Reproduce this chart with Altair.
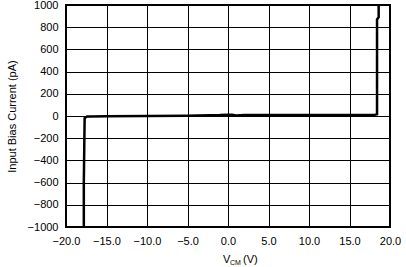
import altair as alt
import pandas as pd

vcm = [-17.8, -17.8, -17.7, -17.4, -17.0, -15.0, -10.0, -5.0, -1.0, 0.0, 0.5, 1.0, 2.0, 5.0, 10.0, 15.0, 18.0, 18.4, 18.4, 18.6, 18.6]
ib = [-1000, -600, -20, -5, -5, -3, 0, 3, 8, 12, 12, 5, 8, 8, 8, 10, 8, 15, 870, 890, 1000]

df = pd.DataFrame({"vcm": vcm, "ib": ib, "i": list(range(len(vcm)))})

FONT = "Liberation Sans"

line = alt.Chart(df).mark_line(color="black", strokeWidth=2.5, clip=True).encode(
    x=alt.X("vcm:Q", scale=alt.Scale(domain=[-20, 20], nice=False),
            axis=alt.Axis(values=[-20, -15, -10, -5, 0, 5, 10, 15, 20], format=".1f",
                          title=None, grid=True, tickSize=0, labelPadding=8, domain=False,
                          labelFlush=False)),
    y=alt.Y("ib:Q", scale=alt.Scale(domain=[-1000, 1000], nice=False),
            axis=alt.Axis(values=list(range(-1000, 1001, 200)), format="d",
                          title="Input Bias Current (pA)",
                          grid=True, tickSize=0, labelPadding=8, domain=False, titlePadding=10,
                          labelFlush=False)),
    order="i:Q",
)

t1 = alt.Chart(pd.DataFrame({"t": ["V"]})).mark_text(font=FONT, fontSize=11, align="left", baseline="alphabetic", color="black").encode(
    text="t:N", x=alt.value(157), y=alt.value(258))
t2 = alt.Chart(pd.DataFrame({"t": ["CM"]})).mark_text(font=FONT, fontSize=7, align="left", baseline="alphabetic", color="black").encode(
    text="t:N", x=alt.value(164), y=alt.value(260))
t3 = alt.Chart(pd.DataFrame({"t": ["(V)"]})).mark_text(font=FONT, fontSize=11, align="left", baseline="alphabetic", color="black").encode(
    text="t:N", x=alt.value(177), y=alt.value(258))

chart = alt.layer(line, t1, t2, t3).properties(
    width=324, height=222,
    background="white",
    autosize=alt.AutoSizeParams(type="none"),
    padding={"left": 66, "top": 5, "right": 16, "bottom": 40},
).configure_view(stroke="black", strokeWidth=2).configure_axis(
    gridColor="black", gridWidth=1, gridOpacity=1,
    labelFont=FONT, labelFontSize=11, labelColor="black",
    titleFont=FONT, titleFontSize=11, titleFontWeight="normal", titleColor="black",
)

chart.save("out.html", embed_options={"renderer": "svg", "actions": False})
